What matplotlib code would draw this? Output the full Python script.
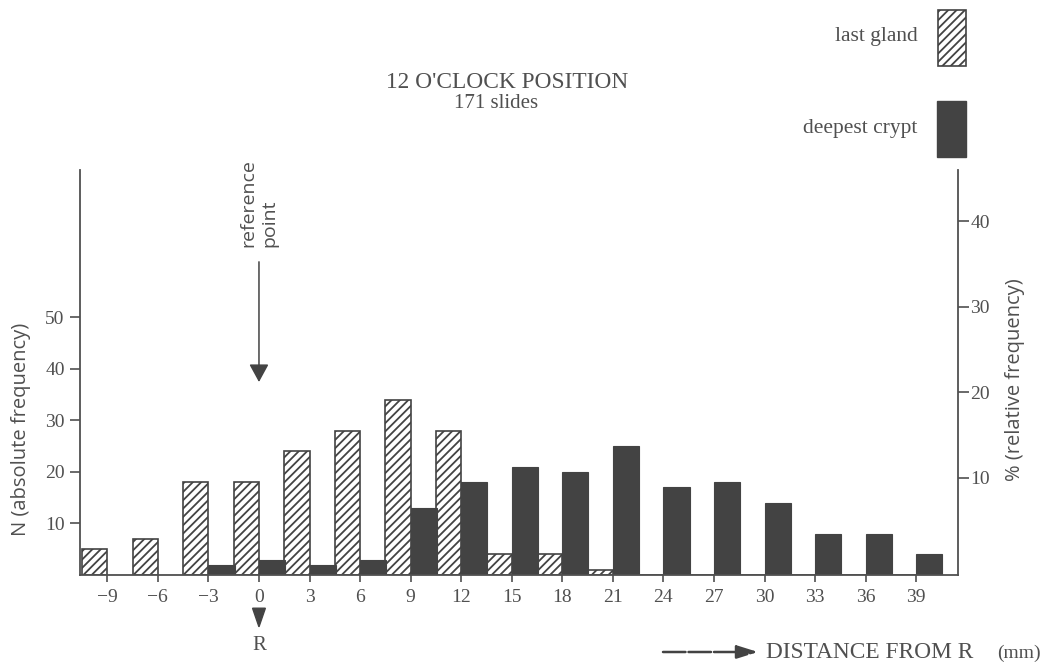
import matplotlib.pyplot as plt
from matplotlib.patches import Rectangle, Polygon

# distance from the reference point R (mm), bar classes every 3 mm
distance = [-9, -6, -3, 0, 3, 6, 9, 12, 15, 18, 21, 24, 27, 30, 33, 36, 39]
last_gland = [5, 7, 18, 18, 24, 28, 34, 28, 4, 4, 1, 0, 0, 0, 0, 0, 0]
deepest_crypt = [0, 0, 2, 3, 2, 3, 13, 18, 21, 20, 25, 17, 18, 14, 8, 8, 4]
tick_labels = ['\u22129', '\u22126', '\u22123', '0', '3', '6', '9', '12', '15',
               '18', '21', '24', '27', '30', '33', '36', '39']
left_ticks = [10, 20, 30, 40, 50]
right_ticks = [10, 20, 30, 40]

ink = '#505050'
dark = '#434343'

plt.rcParams['font.family'] = ['Liberation Serif', 'DejaVu Serif']
plt.rcParams['hatch.color'] = dark
plt.rcParams['hatch.linewidth'] = 1.3

W, H = 1044, 668
fig = plt.figure(figsize=(W / 100, H / 100), dpi=100)


def fx(x):
    return x / W


def fy(y):
    return 1 - y / H


ax = fig.add_axes([fx(80), fy(575), fx(958) - fx(80), fy(170) - fy(575)])

ax.bar(distance, last_gland, width=-1.5, align='edge', facecolor='white',
       edgecolor=dark, hatch='////', linewidth=1.2, zorder=2)
ax.bar(distance, deepest_crypt, width=1.55, align='edge', color=dark,
       edgecolor=dark, linewidth=0.8, zorder=2)

ax.set_xlim(-10.62, 41.48)
ax.set_ylim(0, 78.5)
ax.set_xticks(distance)
ax.set_xticklabels(tick_labels)
ax.set_yticks(left_ticks)

for side in ['top', 'right']:
    ax.spines[side].set_visible(False)
for side in ['left', 'bottom']:
    ax.spines[side].set_color(ink)
    ax.spines[side].set_linewidth(1.3)

ax.tick_params(axis='x', direction='out', length=5, width=1.2, pad=5,
               labelsize=14, colors=ink)
ax.tick_params(axis='y', direction='out', length=7, width=1.2, pad=4,
               labelsize=14, colors=ink)

# right hand scale in percent
ax2 = ax.twinx()
ax2.set_ylim(-1.4, 46.0)
ax2.set_yticks(right_ticks)
for side in ['top', 'left', 'bottom']:
    ax2.spines[side].set_visible(False)
ax2.spines['right'].set_color(ink)
ax2.spines['right'].set_linewidth(1.3)
ax2.tick_params(axis='y', direction='out', length=8, width=1.2, pad=1,
                labelsize=14, colors=ink)

# axis titles
fig.text(fx(21), fy(429), 'N (absolute frequency)', rotation=90,
         ha='center', va='center', fontsize=14.5, family='Open Sans', color=ink)
fig.text(fx(1015), fy(380), '% (relative frequency)', rotation=90,
         ha='center', va='center', fontsize=14.5, family='Open Sans', color=ink)

# heading
fig.text(fx(507), fy(82), "12 O'CLOCK POSITION", ha='center', va='center',
         fontsize=16.8, color=ink)
fig.text(fx(496), fy(104), '171 slides', ha='center', va='center',
         fontsize=15, color=ink)

# key
fig.text(fx(918), fy(37), 'last gland', ha='right', va='center',
         fontsize=15.5, color=ink)
fig.text(fx(917), fy(128), 'deepest crypt', ha='right', va='center',
         fontsize=15.5, color=ink)
fig.add_artist(Rectangle((fx(938), fy(66)), fx(28), 56 / H,
                         transform=fig.transFigure, facecolor='white',
                         edgecolor=dark, hatch='////', linewidth=1.2))
fig.add_artist(Rectangle((fx(937), fy(157)), fx(29), 56 / H,
                         transform=fig.transFigure, facecolor=dark,
                         edgecolor=dark, linewidth=1))

# reference point marker above the bars
ax.text(0, 63.5, 'reference\npoint', rotation=90, ha='center', va='bottom',
        multialignment='left', fontsize=14, family='Open Sans', color=ink,
        linespacing=1.25)
ax.annotate('', xy=(0, 37.4), xytext=(0, 60.7),
            arrowprops=dict(arrowstyle='-|>,head_width=0.3,head_length=0.55',
                            mutation_scale=20, lw=1.1, color=dark,
                            shrinkA=0, shrinkB=0))

# R below the axis
trans = ax.get_xaxis_transform()
ax.add_patch(Polygon([(-0.38, -0.082), (0.38, -0.082), (0, -0.128)],
                     closed=True, transform=trans, clip_on=False,
                     facecolor=dark, edgecolor=dark))
ax.text(0, -0.173, 'R', transform=trans, ha='center', va='center',
        fontsize=15, color=ink)

# distance axis caption
ax.annotate('', xy=(fx(758), fy(652)), xytext=(fx(663), fy(652)),
            xycoords='figure fraction', textcoords='figure fraction',
            arrowprops=dict(arrowstyle='-|>,head_width=0.25,head_length=0.8',
                            mutation_scale=16, lw=1.8, color=dark,
                            linestyle=(0, (9, 1.2)), shrinkA=0, shrinkB=0))
fig.text(fx(766), fy(652), 'DISTANCE FROM R', ha='left', va='center',
         fontsize=16.8, color=ink)
fig.text(fx(1041), fy(653), '(mm)', ha='right', va='center',
         fontsize=14, color=ink)

fig.savefig('out.png', dpi=100, facecolor='white')
